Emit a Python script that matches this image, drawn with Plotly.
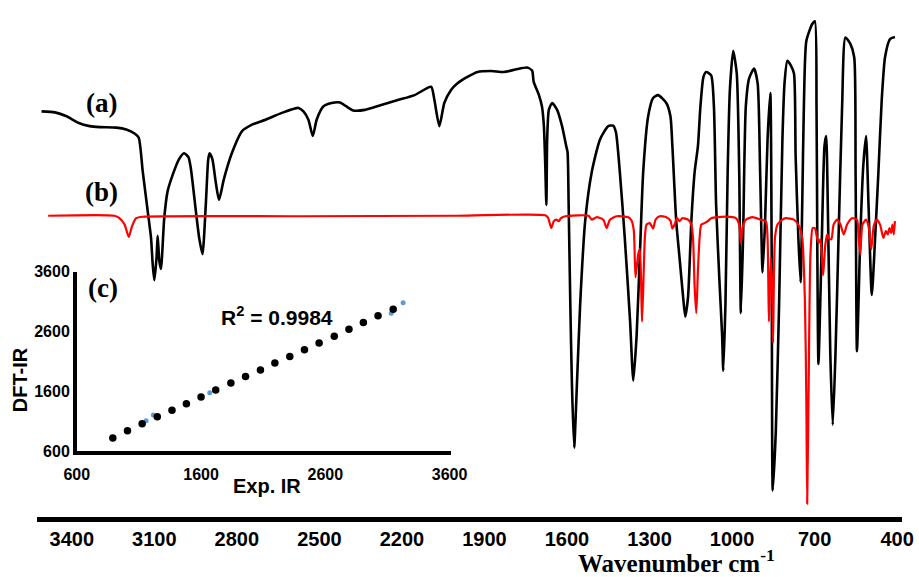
import plotly.graph_objects as go

# ---------------- data ----------------
# (a) experimental FT-IR spectrum: wavenumber (cm-1) and relative transmittance (%)
wn_a = [3510, 3461, 3419, 3377, 3335, 3299, 3238, 3202, 3172, 3157, 3142, 3124, 3112, 3106,
        3100, 3092, 3088, 3082, 3076, 3064, 3052, 3034, 3010, 2992, 2976, 2967, 2949, 2937,
        2925, 2913, 2904, 2899, 2889, 2877, 2865, 2847, 2817, 2781, 2745, 2696, 2636, 2576,
        2558, 2540, 2524, 2510, 2486, 2456, 2425, 2402, 2377, 2335, 2275, 2215, 2154, 2094,
        2082, 2064, 2046, 2022, 1998, 1962, 1925, 1877, 1829, 1787, 1745, 1727, 1721, 1702,
        1691, 1684, 1679, 1675, 1672, 1666, 1654, 1636, 1618, 1603, 1598, 1594, 1588, 1582,
        1574, 1564, 1552, 1534, 1510, 1480, 1450, 1432, 1422, 1408, 1390, 1371, 1359, 1347,
        1335, 1323, 1305, 1287, 1269, 1239, 1224, 1217, 1203, 1191, 1178, 1170, 1160, 1148,
        1136, 1124, 1115, 1104, 1094, 1076, 1066, 1058, 1046, 1036, 1032, 1024, 1016, 1008,
        996, 983, 974, 968, 960, 950, 938, 920, 907, 898, 889, 880, 871, 861, 856, 852,
        841, 829, 817, 809, 799, 787, 775, 769, 759, 751, 745, 739, 730, 709, 699, 693,
        690, 686, 675, 664, 658, 652, 643, 634, 624, 613, 600, 588, 570, 556, 551, 546,
        534, 523, 513, 504, 492, 480, 468, 456, 444, 426, 408]
t_a = [80.0, 79.8, 79.0, 77.7, 77.0, 76.8, 76.7, 76.3, 75.5, 74.7, 67.7, 59.7, 54.3, 49.0,
       45.7, 50.3, 54.7, 49.7, 48.0, 58.3, 63.7, 67.0, 70.3, 71.5, 70.7, 68.3, 59.7, 54.3,
       51.0, 61.0, 70.3, 71.5, 70.3, 65.7, 62.0, 66.3, 71.7, 76.0, 77.3, 78.3, 79.7, 80.7,
       80.0, 78.3, 75.0, 78.3, 81.0, 81.7, 81.8, 81.0, 80.2, 80.3, 81.3, 82.3, 83.3, 85.0,
       82.3, 77.0, 81.7, 84.3, 85.7, 87.0, 88.0, 88.2, 88.0, 88.5, 88.9, 88.3, 86.0, 83.3,
       81.0, 77.0, 69.0, 61.0, 74.4, 80.3, 81.7, 80.3, 77.0, 73.0, 71.7, 61.0, 41.0, 24.4,
       11.7, 24.4, 41.0, 57.7, 67.7, 74.3, 77.0, 77.1, 75.7, 67.7, 54.3, 37.7, 25.3, 34.4,
       51.0, 67.7, 79.0, 82.7, 83.3, 81.7, 79.0, 73.0, 57.7, 50.3, 42.3, 38.3, 42.3, 57.7,
       67.7, 73.0, 81.0, 87.0, 88.0, 87.3, 81.0, 61.0, 45.7, 34.3, 27.3, 41.0, 67.7, 84.3,
       92.3, 87.7, 67.7, 39.0, 54.3, 81.0, 86.7, 88.7, 85.7, 67.7, 47.3, 57.7, 74.3, 83.7, 51.0, 3.0,
       15.0, 41.0, 74.3, 86.0, 90.3, 89.4, 87.7, 71.0, 54.3, 45.3, 61.0, 81.0, 94.3, 97.7, 98.3, 81.0,
       51.0, 28.7, 51.0, 73.0, 75.0, 61.0, 31.0, 16.3, 31.0, 54.3, 81.0, 95.0, 93.7, 91.0, 67.7, 31.3,
       54.3, 69.0, 75.0, 61.0, 42.7, 54.3, 67.7, 82.3, 91.0, 94.7, 95.1]

# (b) DFT computed IR spectrum
wn_b = [3486, 3245, 3227, 3208, 3193, 3181, 3166, 3142, 2576, 1998, 1679, 1669, 1657, 1648,
        1639, 1630, 1622, 1606, 1522, 1510, 1492, 1468, 1456, 1444, 1420, 1377, 1365, 1357,
        1351, 1341, 1335, 1329, 1327, 1321, 1317, 1311, 1299, 1287, 1278, 1263, 1239, 1224,
        1217, 1209, 1200, 1191, 1181, 1160, 1148, 1142, 1136, 1130, 1124, 1118, 1112, 1100,
        1088, 1076, 1022, 986, 974, 968, 962, 950, 926, 896, 877, 871, 868, 866, 859, 853,
        851, 844, 835, 817, 805, 775, 757, 745, 735, 730, 727, 721, 715, 707, 699, 691, 685,
        679, 673, 669, 661, 654, 649, 639, 631, 618, 606, 594, 582, 564, 546, 540, 534, 526,
        513, 504, 494, 485, 474, 462, 450, 441, 434, 428, 422, 417, 412, 408]
t_b = [58.8, 58.8, 58.3, 57.0, 54.5, 56.7, 58.3, 58.6, 58.7, 58.8, 58.9, 58.4, 56.3, 57.7,
       58.0, 57.7, 58.3, 58.7, 58.8, 58.0, 58.5, 58.0, 56.3, 58.0, 58.7, 58.5, 57.8, 55.7,
       46.3, 51.0, 52.0, 41.0, 37.3, 47.7, 54.3, 57.0, 57.3, 56.2, 58.0, 58.7, 58.5, 57.8,
       56.2, 57.0, 58.3, 57.7, 58.3, 58.0, 57.0, 54.3, 44.3, 39.0, 47.7, 54.3, 57.0, 57.3,
       57.7, 58.3, 58.6, 58.3, 57.0, 53.3, 56.3, 58.0, 58.5, 58.0, 57.7, 54.3, 44.3, 37.3, 50.3, 41.0,
       33.0, 54.3, 57.0, 58.0, 58.3, 58.0, 56.7, 54.3, 41.0, 21.0, 0.3, 27.7, 51.0, 56.3, 56.3, 54.3, 53.3,
       54.0, 50.3, 46.7, 53.0, 55.0, 54.3, 54.0, 57.0, 58.0, 57.0, 55.0, 57.0, 58.3, 58.0, 54.3, 51.0, 57.0,
       58.0, 56.7, 52.0, 56.7, 58.0, 57.0, 54.3, 55.7, 55.0, 56.3, 55.3, 57.0, 55.0, 57.7]

# (c) correlation: experimental vs DFT wavenumbers
exp_ir = [890, 1008, 1126, 1248, 1366, 1482, 1600, 1718, 1840, 1958,
          2078, 2194, 2314, 2432, 2550, 2672, 2790, 2906, 3024, 3146]
dft_ir = [819, 941, 1056, 1172, 1281, 1391, 1506, 1622, 1737, 1848,
          1956, 2072, 2182, 2297, 2408, 2523, 2639, 2754, 2863, 2973]
exp_ir_blue = [1158, 1216, 1670, 3130, 3226]
dft_ir_blue = [1106, 1205, 1577, 2907, 3084]

main_ticks = [3400, 3100, 2800, 2500, 2200, 1900, 1600, 1300, 1000, 700, 400]
inset_ticks = [600, 1600, 2600, 3600]
r2_text = "R<sup>2</sup> = 0.9984"

# ---------------- layout geometry ----------------
W, H = 919, 577
L, R, T, B = 37, 12, 0, 60
PW, PH = W - L - R, H - T - B


def px(x):
    return (x - L) / PW


def py(y):
    return (H - B - y) / PH


fig = go.Figure()

fig.add_trace(go.Scatter(x=wn_a, y=t_a, mode="lines",
                         line=dict(color="black", width=2.6, shape="spline", smoothing=0.6),
                         showlegend=False, hoverinfo="skip"))
fig.add_trace(go.Scatter(x=wn_b, y=t_b, mode="lines",
                         line=dict(color="#ff0000", width=2.2, shape="spline", smoothing=0.6),
                         showlegend=False, hoverinfo="skip"))

fig.add_trace(go.Scatter(x=exp_ir_blue, y=dft_ir_blue, mode="markers", xaxis="x2", yaxis="y2",
                         marker=dict(color="#5b9bd5", size=5), showlegend=False, hoverinfo="skip"))
fig.add_trace(go.Scatter(x=exp_ir, y=dft_ir, mode="markers", xaxis="x2", yaxis="y2",
                         marker=dict(color="black", size=7.5), showlegend=False, hoverinfo="skip"))

tick_font = dict(family="Liberation Sans Narrow, Liberation Sans, Arial", size=20,
                 color="black", weight="bold")
inset_font = dict(family="Liberation Sans, Arial", size=16, color="black", weight="bold")

fig.update_layout(
    width=W, height=H,
    margin=dict(l=L, r=R, t=T, b=B, pad=0),
    paper_bgcolor="white", plot_bgcolor="rgba(0,0,0,0)",
    xaxis=dict(range=[3526.5, 382.3], showline=True, linewidth=5, linecolor="black",
               showgrid=False, zeroline=False, tickvals=main_ticks,
               ticktext=[str(v) for v in main_ticks], ticks="",
               tickfont=tick_font, automargin=False),
    yaxis=dict(range=[-2.4, 101], visible=False),
    xaxis2=dict(domain=[px(77), px(453)], range=[600, 3608], anchor="y2",
                showline=True, linewidth=3.5, linecolor="black", showgrid=False,
                zeroline=False, tickvals=inset_ticks, ticktext=[str(v) for v in inset_ticks],
                ticks="outside", ticklen=6, tickcolor="rgba(0,0,0,0)", tickfont=inset_font),
    yaxis2=dict(domain=[py(450), py(268)], range=[600, 3600], anchor="x2",
                showline=True, linewidth=3.5, linecolor="black", showgrid=False,
                zeroline=False, tickvals=inset_ticks, ticktext=[str(v) for v in inset_ticks],
                ticks="", tickfont=inset_font),
)

serif_bold = dict(family="Liberation Serif, Times New Roman", size=27, color="black", weight="bold")
sans_bold = dict(family="Liberation Sans, Arial", size=20, color="black", weight="bold")


def label(text, x, y, font, angle=0):
    fig.add_annotation(text=text, x=px(x), y=py(y), xref="paper", yref="paper",
                       xanchor="center", yanchor="middle", showarrow=False,
                       font=font, textangle=angle)


label("(a)", 102, 97, serif_bold)
label("(b)", 102, 187, serif_bold)
label("(c)", 103, 284, serif_bold)
label("Wavenumber cm<sup>-1</sup>", 680, 562, dict(serif_bold, size=25))
label(r2_text, 278, 313, dict(sans_bold, size=21))
label("Exp. IR", 268, 486, sans_bold)
label("DFT-IR", 20, 378, sans_bold, angle=-90)

fig.write_html("out.html", config={"displayModeBar": False},
               post_script="document.body.style.margin='0';document.body.style.overflow='hidden';")
